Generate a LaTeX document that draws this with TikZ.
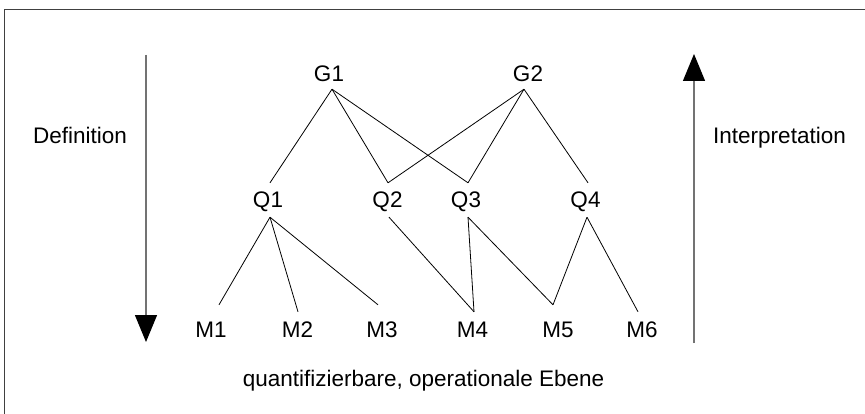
\documentclass[tikz,border=0pt]{standalone}
\usepackage{fontspec}
\setmainfont{Liberation Sans}
\usetikzlibrary{arrows.meta}
\begin{document}
\begin{tikzpicture}[x=1pt,y=-1pt,
  lbl/.style={anchor=base,font=\fontsize{22.5}{26}\selectfont,text height=16pt,text depth=0pt,inner xsep=0pt,inner ysep=7pt},
  edge/.style={draw=black,line width=0.8pt},
  bigarrow/.style={draw=black!55,line width=1.3pt,-{Triangle[width=22pt,length=27pt,fill=black,color=black]}}]
\useasboundingbox (0,0) rectangle (865,414);
\fill[white] (0,0) rectangle (865,414);
\draw[draw=black!75,line width=1.2pt] (865,9.5) -- (4.5,9.5) -- (4.5,414);
% nodes
\node[lbl] (G1) at (329,82) {G1};
\node[lbl] (G2) at (528,82) {G2};
\node[lbl] (Q1) at (268,208) {Q1};
\node[lbl] (Q2) at (387.5,208) {Q2};
\node[lbl] (Q3) at (466,208) {Q3};
\node[lbl] (Q4) at (585.5,208) {Q4};
\node[lbl] (M1) at (211,337) {M1};
\node[lbl] (M2) at (297.5,337) {M2};
\node[lbl] (M3) at (382,337) {M3};
\node[lbl] (M4) at (472.5,337) {M4};
\node[lbl] (M5) at (558,337) {M5};
\node[lbl] (M6) at (642,337) {M6};
\node[lbl] (def) at (80,144) {Definition};
\node[lbl] (int) at (779.5,144) {Interpretation};
\node[lbl] (ebene) at (423.5,386) {quantifizierbare, operationale Ebene};
% arrows
\coordinate (dtop) at (146,55);
\coordinate (dbot) at (146,342);
\coordinate (utop) at (694,54);
\coordinate (ubot) at (694,343);
\draw[bigarrow] (dtop) -- (dbot);
\draw[bigarrow] (ubot) -- (utop);
% G to Q
\draw[edge] ([xshift=3pt]G1.south) -- ([xshift=2pt,yshift=2pt]Q1.north);
\draw[edge] ([xshift=3pt]G1.south) -- ([xshift=0.5pt,yshift=2pt]Q2.north);
\draw[edge] ([xshift=3pt]G1.south) -- ([xshift=2pt,yshift=2pt]Q3.north);
\draw[edge] ([xshift=-4pt]G2.south) -- ([xshift=0.5pt,yshift=2pt]Q2.north);
\draw[edge] ([xshift=-4pt]G2.south) -- ([xshift=2pt,yshift=2pt]Q3.north);
\draw[edge] ([xshift=-4pt]G2.south) -- ([xshift=2.5pt,yshift=2pt]Q4.north);
% Q to M
\draw[edge] ([xshift=2pt,yshift=-2pt]Q1.south) -- ([xshift=8pt,yshift=9pt]M1.north);
\draw[edge] ([xshift=2pt,yshift=-2pt]Q1.south) -- ([xshift=0.5pt,yshift=2pt]M2.north);
\draw[edge] ([xshift=2pt,yshift=-2pt]Q1.south) -- ([xshift=-4pt,yshift=9pt]M3.north);
\draw[edge] ([xshift=1.5pt,yshift=-2pt]Q2.south) -- ([xshift=1.5pt,yshift=2pt]M4.north);
\draw[edge] ([xshift=2pt,yshift=-2pt]Q3.south) -- ([xshift=1.5pt,yshift=2pt]M4.north);
\draw[edge] ([xshift=2pt,yshift=-2pt]Q3.south) -- ([xshift=-5pt,yshift=9pt]M5.north);
\draw[edge] ([xshift=1.5pt,yshift=-2pt]Q4.south) -- ([xshift=-5pt,yshift=9pt]M5.north);
\draw[edge] ([xshift=1.5pt,yshift=-2pt]Q4.south) -- ([xshift=-4pt,yshift=2pt]M6.north);
\end{tikzpicture}
\end{document}
